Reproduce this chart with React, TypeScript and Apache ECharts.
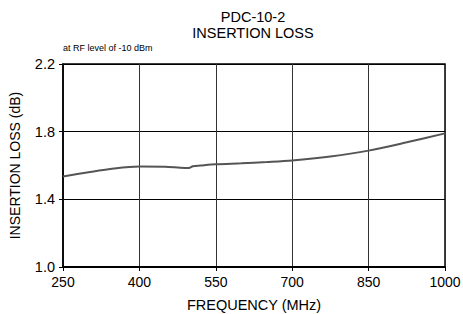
import React, { useEffect, useRef } from "react";
import * as echarts from "echarts";

const frequencies = [250, 300, 350, 400, 450, 480, 497, 505, 520, 550, 600, 650, 700, 775, 850, 925, 1000];
const insertionLoss = [1.535, 1.56, 1.582, 1.594, 1.593, 1.587, 1.585, 1.596, 1.6, 1.607, 1.613, 1.62, 1.629, 1.653, 1.688, 1.737, 1.79];
const xTicks = [250, 400, 550, 700, 850, 1000];
const yTicks = [1.0, 1.4, 1.8, 2.2];

export default function App() {
  const ref = useRef<HTMLDivElement>(null);
  useEffect(() => {
    if (!ref.current) return;
    const chart = echarts.init(ref.current, null, { renderer: "svg" });
    const font = "Liberation Sans, Arial, sans-serif";
    chart.setOption({
      animation: false,
      backgroundColor: "#ffffff",
      title: [
        {
          text: "PDC-10-2\nINSERTION LOSS",
          left: 253,
          top: 9,
          padding: 0,
          textAlign: "center",
          textStyle: { fontFamily: font, fontSize: 14.5, fontWeight: "normal", color: "#000", lineHeight: 16 },
        },
        {
          text: "at RF level of -10 dBm",
          left: 63,
          top: 43,
          padding: 0,
          textStyle: { fontFamily: font, fontSize: 9, fontWeight: "normal", color: "#000" },
        },
      ],
      grid: { left: 63, right: 18, top: 64, bottom: 47, outerBoundsMode: "none", containLabel: false },
      xAxis: {
        type: "value",
        min: xTicks[0],
        max: xTicks[xTicks.length - 1],
        interval: xTicks[1] - xTicks[0],
        name: "FREQUENCY (MHz)",
        nameLocation: "middle",
        nameGap: 30,
        nameTextStyle: { fontFamily: font, fontSize: 14.5, color: "#000" },
        axisLine: { show: true, onZero: false, lineStyle: { color: "#000", width: 2 } },
        axisTick: { show: true, length: 4, lineStyle: { color: "#000" } },
        axisLabel: { fontFamily: font, fontSize: 14, color: "#000", margin: 8, formatter: (v: number) => String(v) },
        splitLine: { show: true, lineStyle: { color: "#333", width: 1 } },
      },
      yAxis: {
        type: "value",
        min: yTicks[0],
        max: yTicks[yTicks.length - 1],
        interval: yTicks[1] - yTicks[0],
        name: "INSERTION LOSS (dB)",
        nameLocation: "middle",
        nameGap: 41,
        nameTextStyle: { fontFamily: font, fontSize: 14, color: "#000" },
        axisLine: { show: true, lineStyle: { color: "#000", width: 1.5 } },
        axisTick: { show: true, length: 4, lineStyle: { color: "#000" } },
        axisLabel: { fontFamily: font, fontSize: 14.5, color: "#000", margin: 8, formatter: (v: number) => v.toFixed(1) },
        splitLine: { show: true, lineStyle: { color: "#000", width: 1 } },
      },
      graphic: [
        {
          type: "rect",
          shape: { x: 63, y: 64, width: 382, height: 203 },
          style: { fill: "none", stroke: "#000", lineWidth: 1.5 },
          silent: true,
        },
      ],
      series: [
        {
          type: "line",
          data: frequencies.map((f, i) => [f, insertionLoss[i]]),
          showSymbol: false,
          smooth: 0.3,
          lineStyle: { color: "#555", width: 2 },
        },
      ],
    });
    return () => chart.dispose();
  }, []);
  return <div ref={ref} style={{ width: 463, height: 314, position: "absolute", left: 0, top: 0 }} />;
}
